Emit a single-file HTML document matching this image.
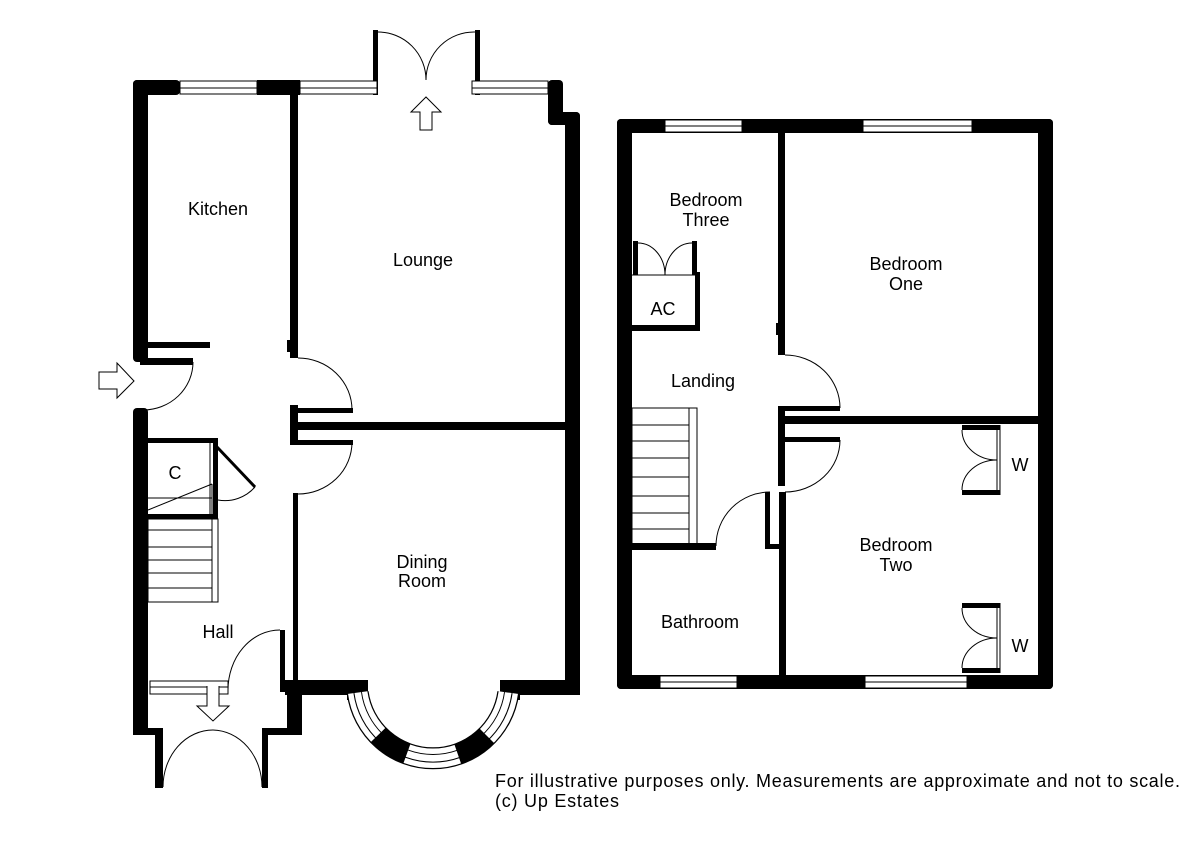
<!DOCTYPE html>
<html><head><meta charset="utf-8"><style>
html,body{margin:0;padding:0;background:#fff;}
svg{display:block;}
text{font-family:"Liberation Sans",Arial,sans-serif;font-size:18px;fill:#000;}
</style></head><body>
<svg width="1200" height="849" viewBox="0 0 1200 849" xmlns="http://www.w3.org/2000/svg">
<g fill="#000">
<rect x="133" y="80" width="47" height="15" rx="4"/>
<rect x="257" y="80" width="43" height="15"/>
<rect x="133" y="80" width="15" height="282" rx="4"/>
<rect x="133" y="408" width="15" height="327" rx="4"/>
<rect x="373" y="30" width="5" height="65"/>
<rect x="475" y="30" width="5" height="65"/>
<rect x="548" y="80" width="15" height="45" rx="4"/>
<rect x="548" y="112" width="32" height="13" rx="4"/>
<rect x="565" y="112" width="15" height="583" rx="4"/>
<rect x="290" y="95" width="8" height="263"/>
<rect x="287" y="340" width="4" height="12"/>
<rect x="148" y="342" width="62" height="6"/>
<rect x="140" y="358" width="53" height="7"/>
<rect x="293" y="408" width="60" height="5"/>
<rect x="290" y="405" width="8" height="40"/>
<rect x="298" y="422" width="267" height="8"/>
<rect x="293" y="440" width="60" height="5"/>
<rect x="293" y="493" width="5" height="190"/>
<rect x="148" y="438" width="69" height="5"/>
<rect x="213" y="438" width="5" height="81"/>
<rect x="148" y="514" width="70" height="5"/>
<rect x="280" y="630" width="5" height="62"/>
<rect x="285" y="680" width="82" height="15"/>
<rect x="500" y="680" width="80" height="15"/>
<rect x="287" y="685" width="15" height="50" rx="3"/>
<rect x="262" y="728" width="40" height="7"/>
<rect x="133" y="728" width="30" height="7"/>
<rect x="155" y="728" width="8" height="60"/>
<rect x="262" y="728" width="6" height="60"/>
<rect x="347" y="680" width="21" height="20"/>
<rect x="500" y="680" width="20" height="20"/>
</g>
<g fill="#fff" stroke="#000" stroke-width="1">
<rect x="180" y="81" width="77" height="13"/>
<rect x="300" y="81" width="77" height="13"/>
<rect x="472" y="81" width="76" height="13"/>
<rect x="150" y="681" width="78" height="13"/>
</g>
<g stroke="#000" stroke-width="1" fill="none">
<line x1="180" y1="88" x2="257" y2="88"/>
<line x1="300" y1="88" x2="377" y2="88"/>
<line x1="472" y1="88" x2="548" y2="88"/>
<line x1="150" y1="687" x2="228" y2="687"/>
<path d="M378 32 A48 48 0 0 1 426 80"/>
<path d="M475 32 A48 48 0 0 0 426 80"/>
<path d="M420 130 V112 H411 L426 97 L441 112 H432 V130 Z" fill="#fff"/>
<path d="M193 362 A50 48 0 0 1 143 410"/>
<path d="M99 372 H117 V363 L134 381 L117 398 V389 H99 Z" fill="#fff"/>
<path d="M298 358 A54 52 0 0 1 352 410"/>
<path d="M352 442 A54 52 0 0 1 298 494"/>
<line x1="217" y1="447" x2="255" y2="487" stroke-width="3"/>
<path d="M255 487 A40 40 0 0 1 218 500"/>
<rect x="148" y="519" width="70" height="83"/>
<line x1="148" y1="530" x2="212" y2="530"/>
<line x1="148" y1="547" x2="212" y2="547"/>
<line x1="148" y1="560" x2="212" y2="560"/>
<line x1="148" y1="573" x2="212" y2="573"/>
<line x1="148" y1="588" x2="212" y2="588"/>
<line x1="212" y1="484" x2="212" y2="602"/>
<line x1="148" y1="510" x2="212" y2="484"/>
<line x1="148" y1="498" x2="212" y2="498"/>
<line x1="210" y1="443" x2="210" y2="514"/>
<path d="M228 690 A52 60 0 0 1 280 630"/>
<path d="M207 686 V706 H197 L213 721 L229 706 H219 V686" fill="#fff"/>
<path d="M163 787 A50 57 0 0 1 213 730"/>
<path d="M262 787 A50 57 0 0 0 213 730"/>
<!-- bay -->
<path d="M508.3 692.6 A76 76 0 0 1 357.7 692.6" stroke-width="22"/>
<path d="M508.3 692.6 A76 76 0 0 1 357.7 692.6" stroke="#fff" stroke-width="19.5"/>
<path d="M508.3 692.6 A76 76 0 0 1 357.7 692.6" stroke-width="1" transform="translate(433 682) scale(0.95) translate(-433 -682)"/>
<path d="M508.3 692.6 A76 76 0 0 1 357.7 692.6" stroke-width="1" transform="translate(433 682) scale(1.05) translate(-433 -682)"/>
<path d="M407 753.4 A76 76 0 0 1 378.3 734.8" stroke-width="21"/>
<path d="M486.7 735.7 A76 76 0 0 1 457.7 753.9" stroke-width="21"/>
</g>
<!-- UPPER FLOOR -->
<g fill="#000">
<rect x="617" y="119" width="436" height="14" rx="4"/>
<rect x="617" y="119" width="15" height="570" rx="4"/>
<rect x="1038" y="119" width="15" height="570" rx="4"/>
<rect x="617" y="675" width="436" height="14" rx="4"/>
<rect x="778" y="133" width="7" height="222"/>
<rect x="776" y="323" width="4" height="12"/>
<rect x="778" y="406" width="62" height="5"/>
<rect x="778" y="406" width="7" height="80"/>
<rect x="785" y="416" width="253" height="8"/>
<rect x="778" y="437" width="62" height="5"/>
<rect x="765" y="492" width="5" height="57"/>
<rect x="779" y="492" width="7" height="183"/>
<rect x="765" y="544" width="21" height="5"/>
<rect x="632" y="543" width="84" height="7"/>
<rect x="632" y="325" width="68" height="6"/>
<rect x="695" y="272" width="5" height="59"/>
<rect x="633" y="241" width="5" height="34"/>
<rect x="692" y="241" width="5" height="34"/>
<rect x="962" y="425" width="38" height="5"/>
<rect x="962" y="490" width="38" height="5"/>
<rect x="962" y="603" width="38" height="5"/>
<rect x="962" y="668" width="38" height="5"/>
</g>
<g fill="#fff" stroke="#000" stroke-width="1">
<rect x="665" y="120" width="77" height="12"/>
<rect x="863" y="120" width="109" height="12"/>
<rect x="660" y="676" width="77" height="12"/>
<rect x="865" y="676" width="102" height="12"/>
</g>
<g stroke="#000" stroke-width="1" fill="none">
<line x1="665" y1="126" x2="742" y2="126"/>
<line x1="863" y1="126" x2="972" y2="126"/>
<line x1="660" y1="682" x2="737" y2="682"/>
<line x1="865" y1="682" x2="967" y2="682"/>
<path d="M785 355 A55 53 0 0 1 840 408"/>
<path d="M840 440 A55 52 0 0 1 785 492"/>
<path d="M716 546 A54 54 0 0 1 770 492"/>
<rect x="632" y="408" width="65" height="138"/>
<line x1="632" y1="425" x2="689" y2="425"/>
<line x1="632" y1="441" x2="689" y2="441"/>
<line x1="632" y1="458" x2="689" y2="458"/>
<line x1="632" y1="477" x2="689" y2="477"/>
<line x1="632" y1="496" x2="689" y2="496"/>
<line x1="632" y1="513" x2="689" y2="513"/>
<line x1="632" y1="529" x2="689" y2="529"/>
<line x1="689" y1="408" x2="689" y2="546"/>
<line x1="632" y1="275" x2="697" y2="275"/>
<path d="M638 243 A27 32 0 0 1 665 275"/>
<path d="M692 243 A27 32 0 0 0 665 275"/>
<line x1="997" y1="425" x2="997" y2="495"/>
<line x1="1000" y1="425" x2="1000" y2="495"/>
<path d="M962 430 A35 30 0 0 0 997 460"/>
<path d="M962 490 A35 30 0 0 1 997 460"/>
<line x1="997" y1="603" x2="997" y2="673"/>
<line x1="1000" y1="603" x2="1000" y2="673"/>
<path d="M962 608 A35 30 0 0 0 997 638"/>
<path d="M962 668 A35 30 0 0 1 997 638"/>
</g>
<g text-anchor="middle">
<text x="218" y="215">Kitchen</text>
<text x="423" y="266">Lounge</text>
<text x="175" y="479">C</text>
<text x="422" y="568">Dining</text>
<text x="422" y="587">Room</text>
<text x="218" y="638">Hall</text>
<text x="706" y="206">Bedroom</text>
<text x="706" y="226">Three</text>
<text x="906" y="270">Bedroom</text>
<text x="906" y="290">One</text>
<text x="663" y="315">AC</text>
<text x="703" y="387">Landing</text>
<text x="1020" y="471">W</text>
<text x="896" y="551">Bedroom</text>
<text x="896" y="571">Two</text>
<text x="700" y="628">Bathroom</text>
<text x="1020" y="652">W</text>
</g>
<text x="495" y="787" style="font-size:18px" textLength="685" lengthAdjust="spacing">For illustrative purposes only. Measurements are approximate and not to scale.</text>
<text x="495" y="807" style="font-size:18px" textLength="124" lengthAdjust="spacing">(c) Up Estates</text>
</svg>
</body></html>
